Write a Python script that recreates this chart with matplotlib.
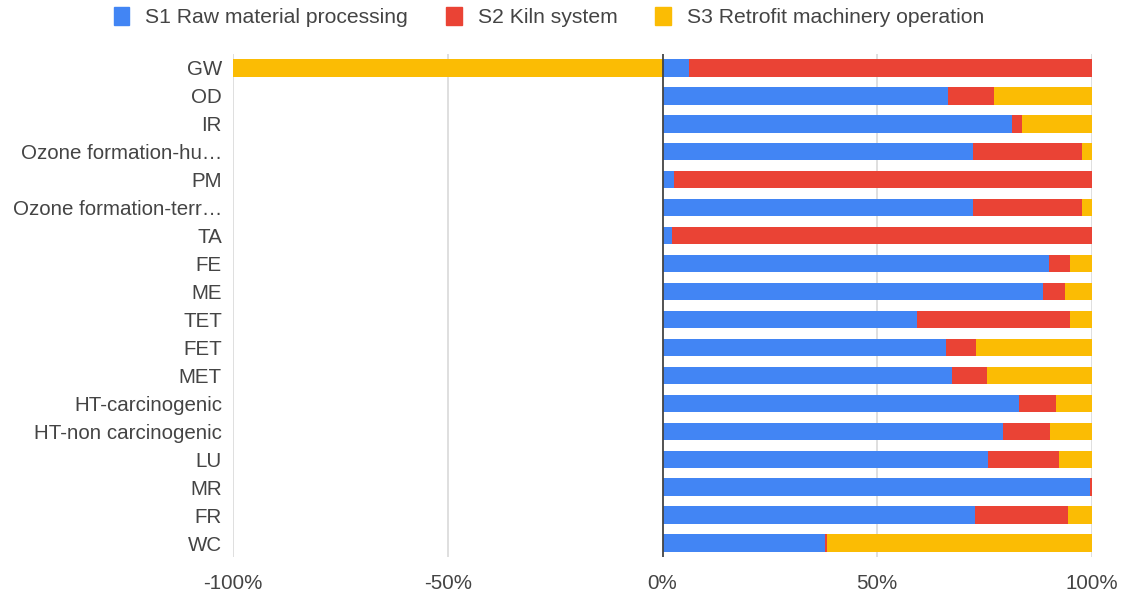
import matplotlib
matplotlib.use("Agg")
import matplotlib.pyplot as plt
import numpy as np

plt.rcParams['font.family'] = ['Liberation Sans', 'DejaVu Sans']

categories = [
    "GW", "OD", "IR", "Ozone formation-hu…", "PM", "Ozone formation-terr…",
    "TA", "FE", "ME", "TET", "FET", "MET", "HT-carcinogenic",
    "HT-non carcinogenic", "LU", "MR", "FR", "WC",
]

series_names = ["S1 Raw material processing", "S2 Kiln system",
                "S3 Retrofit machinery operation"]

s1 = [6.2, 66.5, 81.3, 72.4, 2.6, 72.4, 2.2, 90.0, 88.7, 59.2, 66.1, 67.4,
      83.0, 79.3, 75.7, 99.5, 72.7, 37.9]
s2 = [93.8, 10.7, 2.5, 25.3, 97.4, 25.3, 97.8, 4.8, 4.9, 35.6, 7.0, 8.2,
      8.6, 11.0, 16.6, 0.5, 21.7, 0.4]
s3 = [-100.0, 22.8, 16.2, 2.3, 0.0, 2.3, 0.0, 5.2, 6.4, 5.2, 26.9, 24.4,
      8.4, 9.7, 7.7, 0.0, 5.6, 61.7]

x_ticks = [-100, -50, 0, 50, 100]
x_tick_labels = ["-100%", "-50%", "0%", "50%", "100%"]

colors = ["#4285F4", "#EA4335", "#FBBC04"]

W, H = 1132, 598
fig = plt.figure(figsize=(W / 100, H / 100), dpi=100)
ax = fig.add_axes([233 / W, 1 - 557 / H, (1092 - 233) / W, (557 - 54) / H])

y = np.arange(len(categories))
pos_base = np.zeros(len(categories))
neg_base = np.zeros(len(categories))
for vals, color, name in zip([s1, s2, s3], colors, series_names):
    vals = np.array(vals, dtype=float)
    left = np.where(vals >= 0, pos_base, neg_base)
    ax.barh(y, vals, left=left, height=0.62, color=color, label=name,
            edgecolor='none', zorder=3)
    pos_base = pos_base + np.where(vals > 0, vals, 0)
    neg_base = neg_base + np.where(vals < 0, vals, 0)

ax.set_xlim(-100, 100)
ax.set_ylim(len(categories) - 0.5, -0.5)

for xt in x_ticks:
    if xt == 0:
        ax.axvline(0, color="#444444", linewidth=1.3, zorder=4)
    else:
        ax.axvline(xt, color="#d6d6d6", linewidth=1.1, zorder=1)

ax.set_xticks(x_ticks)
ax.set_xticklabels(x_tick_labels)
ax.set_yticks(y)
ax.set_yticklabels(categories)
ax.tick_params(axis='both', length=0, labelsize=14.8, colors="#444444")
ax.tick_params(axis='x', pad=12)
ax.tick_params(axis='y', pad=8)
for spine in ax.spines.values():
    spine.set_visible(False)

handles = [plt.Rectangle((0, 0), 1, 1, color=c) for c in colors]
fig.legend(handles, series_names, loc='center', bbox_to_anchor=(0.485, 1 - 17 / H),
           ncol=3, frameon=False, fontsize=15.2, handlelength=0.75,
           handleheight=0.95, handletextpad=0.75, columnspacing=1.8,
           labelcolor="#444444")

fig.savefig("out.png", dpi=100)
